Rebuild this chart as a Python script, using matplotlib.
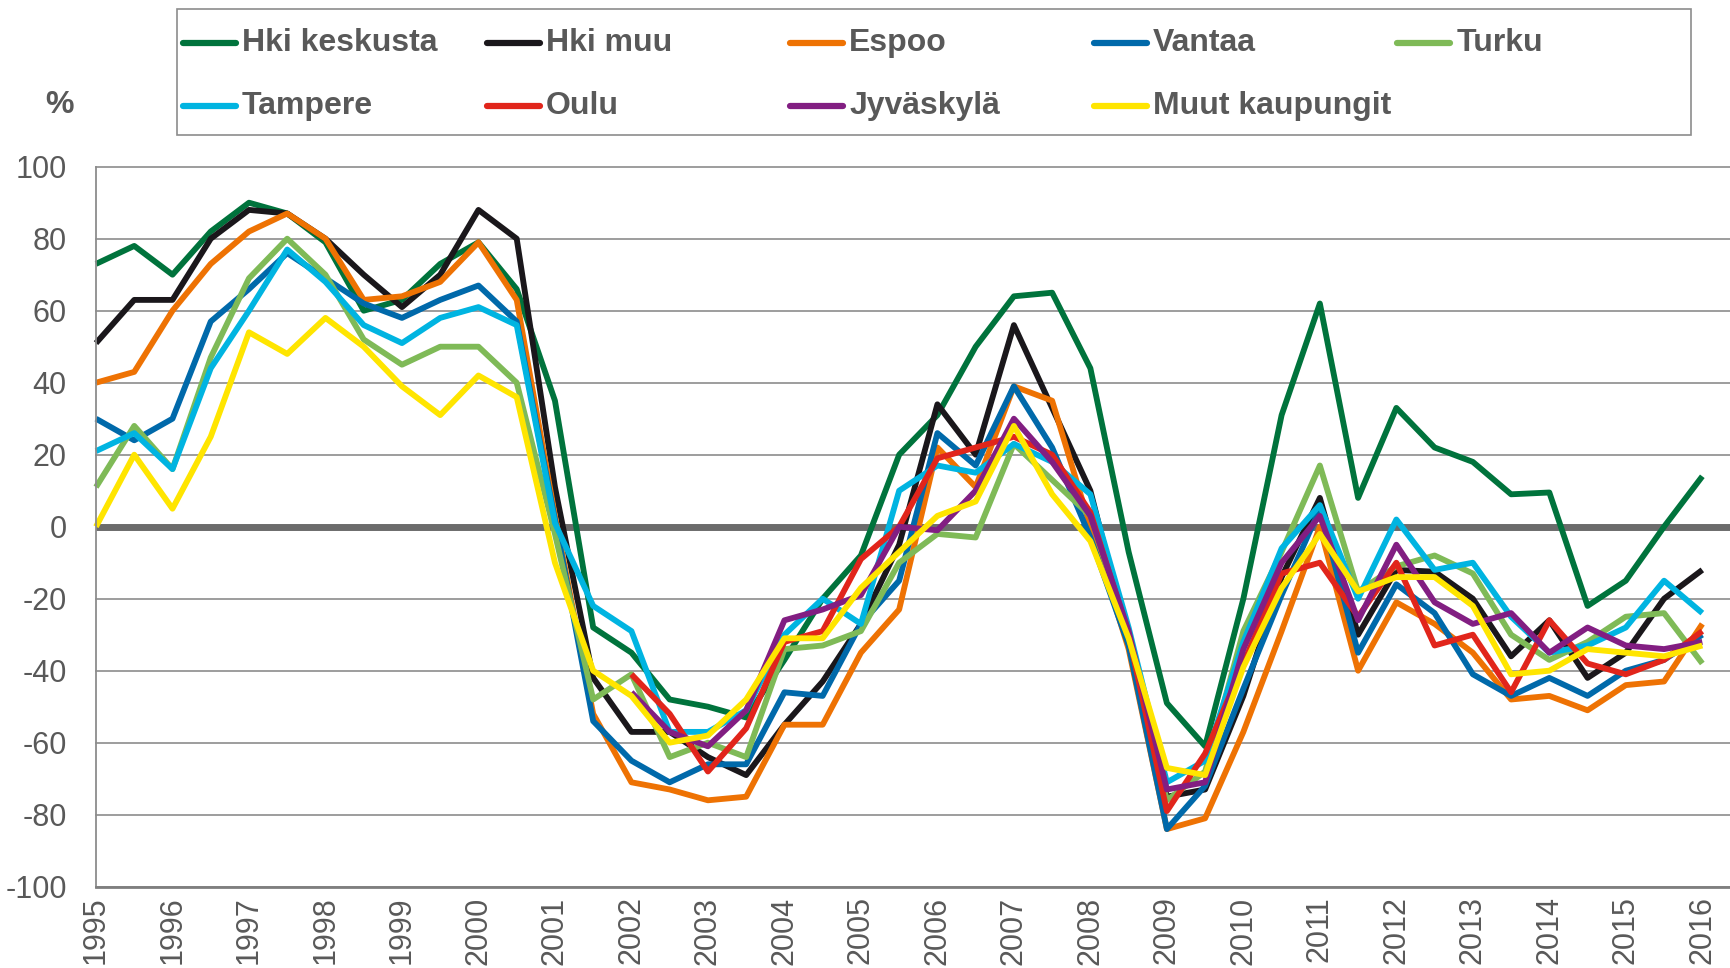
import matplotlib
matplotlib.use("Agg")
import matplotlib.pyplot as plt
from matplotlib import font_manager
from matplotlib.lines import Line2D
from matplotlib.patches import Rectangle
import numpy as np

# ---------------- data ----------------
periods = [1995 + 0.5 * i for i in range(43)]
year_labels = [str(y) for y in range(1995, 2017)]
year_ticks = list(range(1995, 2017))
y_ticks = list(range(-100, 101, 20))

series_names = ["Hki keskusta", "Hki muu", "Espoo", "Vantaa", "Turku",
                "Tampere", "Oulu", "Jyväskylä", "Muut kaupungit"]
series_colors = ["#00733C", "#1A171B", "#EE7203", "#0069AA", "#7FBA57",
                 "#00B4E1", "#E1251B", "#821E82", "#FFE500"]

hki_keskusta = [73, 78, 70, 82, 90, 87, 79, 60, 63, 73, 79, 66, 35, -28, -35, -48, -50, -53,
                -37, -20, -8, 20, 31, 50, 64, 65, 44, -7, -49, -61, -20, 31, 62, 8, 33, 22,
                18, 9, 9.5, -22, -15, 0, 14]
hki_muu = [51, 63, 63, 80, 88, 87, 80, 70, 61, 70, 88, 80, 11, -42, -57, -57, -64, -69,
           -55, -43, -27, -5, 34, 20, 56, 33, 10, -32, -75, -73, -47, -14, 8, -30, -12, -12.5,
           -20, -36, -26, -42, -35, -20, -12]
espoo = [40, 43, 60, 73, 82, 87, 80, 63, 64, 68, 79, 63, 3, -52, -71, -73, -76, -75,
         -55, -55, -35, -23, 22, 11, 39, 35, 0, -34, -84, -81, -57, -29, 0, -40, -21, -27,
         -35, -48, -47, -51, -44, -43, -27]
vantaa = [30, 24, 30, 57, 66, 76, 69, 62, 58, 63, 67, 57, 2, -54, -65, -71, -66, -66,
          -46, -47, -27, -15, 26, 17, 39, 22, -3, -33, -84, -72, -45, -19, 5, -35, -16, -24,
          -41, -47, -42, -47, -40, -37, -30]
turku = [11, 28, 16, 47, 69, 80, 70, 52, 45, 50, 50, 40, -2, -48, -41, -64, -60, -64,
         -34, -33, -29, -10, -2, -3, 23, 13, 3, -30, -76, -68, -29, -7, 17, -18, -11, -8,
         -13, -30, -37, -32, -25, -24, -38]
tampere = [21, 26, 16, 44, 60, 77, 68, 56, 51, 58, 61, 56, 1, -22, -29, -57, -57, -51,
           -30, -20, -27, 10, 17, 15, 23, 18, 9, -28, -71, -65, -32, -6, 6, -20, 2, -12,
           -10, -25, -35, -33, -28, -15, -24]
oulu = [None] * 14 + [-41, -52, -68, -56, -32, -29, -9, 0, 19, 22, 25, 20, 4, -30, -79, -63,
                      -38, -13, -10, -25, -10, -33, -30, -46, -26, -38, -41, -37, -29]
jyvaskyla = [None] * 14 + [-46, -57, -61, -51, -26, -23, -19, 0, -1, 10, 30, 18, 3, -29, -73,
                           -71, -34, -10, 3, -26, -5, -21, -27, -24, -35, -28, -33, -34, -32]
muut_kaupungit = [0, 20, 5, 25, 54, 48, 58, 50, 39, 31, 42, 36, -10, -40, -47, -60, -58, -48,
                  -31, -31, -17, -7, 3, 7, 28, 9, -4, -31, -67, -69, -39, -17, -2, -18, -14, -14,
                  -22, -41, -40, -34, -35, -36, -33]

series_values = [hki_keskusta, hki_muu, espoo, vantaa, turku, tampere, oulu,
                 jyvaskyla, muut_kaupungit]

# ---------------- fonts ----------------
available = {f.name for f in font_manager.fontManager.ttflist}
base_font = "Liberation Sans Narrow" if "Liberation Sans Narrow" in available else "Liberation Sans"
plt.rcParams["font.family"] = [base_font, "DejaVu Sans"]

TEXT_GRAY = "#595959"
GRID_GRAY = "#8C8C8C"

W, H = 1731, 968
fig = plt.figure(figsize=(W / 100, H / 100), dpi=100)

ax_left, ax_right = 96, 1731
ax_top, ax_bottom = 166.7, 886.7
ax = fig.add_axes([ax_left / W, (H - ax_bottom) / H,
                   (ax_right - ax_left) / W, (ax_bottom - ax_top) / H])

ax.set_xlim(1995, 1995 + 42.75 / 2)
ax.set_ylim(-100, 100)

# grid & zero line
for yv in y_ticks:
    if yv == 0:
        continue
    ax.axhline(yv, color=GRID_GRAY, lw=1.2, zorder=1, clip_on=False)
ax.axhline(0, color="#6B6B6B", lw=5.0, zorder=1.5)

for vals, color in zip(series_values, series_colors):
    arr = np.array(vals, dtype=float)
    ax.plot(periods, arr, color=color, lw=4.2, solid_joinstyle="round",
            solid_capstyle="butt", zorder=2, clip_on=False)

for side in ["top", "right"]:
    ax.spines[side].set_visible(False)
ax.spines["left"].set_color(GRID_GRAY)
ax.spines["left"].set_linewidth(1.3)
ax.spines["bottom"].set_color("#7F7F7F")
ax.spines["bottom"].set_linewidth(2.0)

ax.set_yticks(y_ticks)
ax.set_yticklabels([str(v) for v in y_ticks])
ax.set_xticks(year_ticks)
ax.set_xticklabels(year_labels, rotation=90, va="top", ha="center")
ax.tick_params(axis="both", length=0, labelcolor=TEXT_GRAY, labelsize=22)
ax.tick_params(axis="y", pad=21)
ax.tick_params(axis="x", pad=7)

# % label
fig.text(60 / W, 1 - 105 / H, "%", ha="center", va="center", fontsize=23,
         color=TEXT_GRAY, fontweight="bold")

# ---------------- legend (manual layout) ----------------
lx0, lx1, ly0, ly1 = 177, 1691, 9, 135
fig.add_artist(Rectangle((lx0 / W, 1 - ly1 / H), (lx1 - lx0) / W, (ly1 - ly0) / H,
                         transform=fig.transFigure, fill=False,
                         edgecolor=GRID_GRAY, lw=1.2))
col_x = [183 + 303.6 * k for k in range(5)]
row_y = [43, 106]
for idx, (name, color) in enumerate(zip(series_names, series_colors)):
    r, c = divmod(idx, 5)
    x0 = col_x[c]
    yy = 1 - row_y[r] / H
    fig.add_artist(Line2D([x0 / W, (x0 + 53) / W], [yy, yy], transform=fig.transFigure,
                          color=color, lw=4.5, solid_capstyle="round"))
    fig.text((x0 + 59) / W, yy, name, ha="left", va="center", fontsize=23,
             fontweight="bold", color=TEXT_GRAY)

fig.savefig("out.png", dpi=100)
